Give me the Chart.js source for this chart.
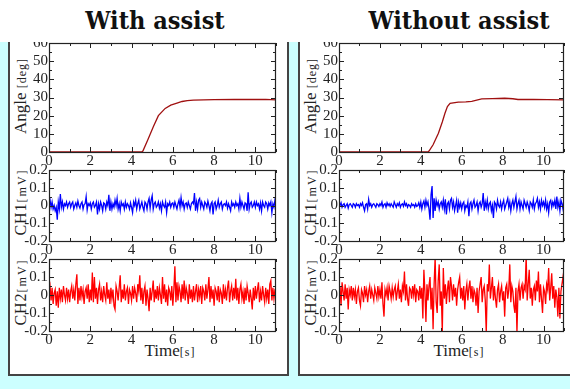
<!DOCTYPE html>
<html>
<head>
<meta charset="utf-8">
<script src="https://cdn.jsdelivr.net/npm/chart.js@4.4.1/dist/chart.umd.min.js"></script>
<style>
  body { margin: 0; width: 570px; height: 389px; background: #ccffff; position: relative; overflow: hidden; font-family: 'Liberation Serif', serif; color: #222; }
  .head { position: absolute; left: 0; top: 0; width: 570px; height: 42px; background: #fff; z-index: 5; }
  .title { position: absolute; top: 8px; font: bold 25px/26px 'DejaVu Serif', serif; font-stretch: condensed; transform: translateX(-50%); white-space: nowrap; color: #111; }
  .panel { position: absolute; top: 20px; height: 356px; background: #fff; border: 2px solid #444; box-sizing: border-box; }
  .plot { position: absolute; }
  .lab { position: absolute; white-space: nowrap; font-size: 17px; line-height: 17px; }
  .ylab { transform: translate(-50%, -50%) rotate(-90deg); }
  .xlab { transform: translate(-50%, -50%); }
  .lab small { font-size: 12px; letter-spacing: 1px; }
  .ch { font-size: 16px; letter-spacing: 1px; }
  .ch small { letter-spacing: 2px; }
</style>
</head>
<body>
<div class="head">
  <div class="title" style="left:155px">With assist</div>
  <div class="title" style="left:459px">Without assist</div>
</div>
<div class="panel" style="left:8px;width:281px"></div>
<div class="panel" style="left:298px;width:290px"></div>

<div class="lab ylab" style="left:21px;top:96px">Angle <small>[deg]</small></div>
<div class="lab ylab ch" style="left:21px;top:202px">CH1<small>[mV]</small></div>
<div class="lab ylab ch" style="left:21px;top:292px">CH2<small>[mV]</small></div>
<div class="lab xlab" style="left:170px;top:351px">Time<small>[s]</small></div>
<div class="lab ylab" style="left:311px;top:96px">Angle <small>[deg]</small></div>
<div class="lab ylab ch" style="left:311px;top:202px">CH1<small>[mV]</small></div>
<div class="lab ylab ch" style="left:311px;top:292px">CH2<small>[mV]</small></div>
<div class="lab xlab" style="left:459px;top:351px">Time<small>[s]</small></div>

<script>
// ---- data ----
const DT = 0.05; // sample spacing of the EMG traces [s]
const xTicks = [0, 2, 4, 6, 8, 10];
const angleTicks = [0, 10, 20, 30, 40, 50, 60];
const mvTicks = [-0.2, -0.1, 0, 0.1, 0.2];
const mvTickLabels = ['-0.2', '-0.1', '0', '0.1', '0.2'];

// joint angle, with assist
const angleWithT = [0, 4.5, 4.55, 4.8, 5.06, 5.3, 5.63, 5.9, 6.2, 6.45, 6.7, 7.0, 8.0, 9.0, 10.0, 10.5, 11];
const angleWithV = [0, 0, 0.5, 7, 14, 20, 24, 25.8, 26.9, 27.8, 28.3, 28.6, 28.8, 28.9, 28.9, 29.0, 28.7];
// joint angle, without assist
const angleWithoutT = [0, 4.35, 4.4, 4.6, 4.86, 5.05, 5.18, 5.3, 5.43, 5.83, 6.2, 6.49, 6.98, 7.5, 8.1, 8.5, 8.75, 9.5, 10.2, 11];
const angleWithoutV = [0, 0, 0.5, 4, 10.3, 16.5, 21.3, 25, 26.8, 27.5, 27.6, 27.9, 29.2, 29.4, 29.6, 29.3, 28.9, 29.0, 28.8, 28.7];

const ch1With = [
  0.01, 0.03, -0.01, 0.02, -0.02, 0.00, -0.03, -0.01, -0.08, 0.02, -0.02, 0.065, -0.01, 0.02, -0.02, 0.01, 0.00, 0.02, -0.01, 0.01,
  0.02, -0.01, 0.01, 0.02, -0.02, 0.00, 0.015, -0.01, 0.025, 0.00, -0.015, 0.01, 0.02, -0.02, 0.005, 0.01, 0.05, -0.025, 0.01, 0.00,
  0.015, -0.02, 0.01, 0.02, -0.01, 0.00, 0.02, -0.05, 0.01, -0.02, 0.02, 0.00, -0.03, 0.015, 0.01, -0.02, 0.02, 0.00, 0.06, -0.03,
  0.02, -0.02, 0.01, -0.01, 0.03, 0.00, 0.04, -0.02, 0.01, -0.03, 0.02, 0.00, 0.01, -0.02, 0.02, -0.01, 0.01, 0.00, -0.02, 0.015,
  -0.01, -0.04, 0.02, 0.00, 0.03, -0.02, 0.01, 0.03, -0.02, 0.00, 0.02, -0.01, -0.03, 0.02, 0.01, -0.02, 0.02, 0.04, -0.015, 0.03,
  0.055, -0.02, 0.01, 0.02, -0.01, 0.00, 0.02, -0.015, 0.01, -0.03, 0.02, 0.00, -0.01, 0.02, -0.04, 0.01, 0.00, 0.02, -0.01, 0.01,
  0.015, -0.01, 0.02, 0.00, -0.02, 0.01, 0.03, -0.01, 0.045, 0.00, 0.02, -0.02, 0.01, 0.015, -0.01, 0.02, 0.00, -0.02, 0.01, 0.02,
  0.01, 0.07, -0.03, 0.02, -0.02, 0.03, 0.04, -0.01, 0.02, 0.00, -0.02, 0.02, 0.01, -0.01, 0.025, 0.00, -0.03, 0.01, 0.02, -0.05,
  0.01, 0.02, -0.02, 0.00, 0.03, -0.01, 0.01, 0.02, -0.02, 0.005, 0.01, 0.00, 0.02, -0.015, 0.01, -0.01, -0.03, 0.02, 0.00, 0.01,
  -0.01, 0.02, 0.00, 0.01, -0.02, 0.04, -0.01, 0.02, 0.00, -0.02, 0.015, 0.01, -0.03, 0.075, -0.02, 0.01, 0.02, -0.01, 0.00, 0.02,
  -0.01, 0.02, 0.00, 0.01, -0.02, 0.015, -0.03, 0.02, 0.00, -0.01, 0.02, 0.01, -0.02, 0.015, 0.00, 0.02, -0.04, 0.01, -0.01, 0.03,
  0.01
];
const ch2With = [
  0.02, 0.05, -0.03, 0.04, -0.05, 0.01, 0.03, -0.06, 0.02, -0.07, 0.04, -0.02, 0.03, -0.04, 0.05, 0.00, -0.03, 0.04, -0.02, 0.03,
  -0.04, 0.02, 0.05, -0.02, 0.03, -0.03, 0.06, 0.115, -0.05, 0.04, -0.03, 0.05, -0.01, 0.03, -0.05, 0.02, 0.04, -0.02, 0.06, -0.04,
  0.03, -0.03, 0.125, -0.04, 0.10, -0.02, 0.04, -0.05, 0.03, 0.06, -0.03, 0.02, -0.04, 0.05, 0.00, -0.03, 0.07, -0.02, 0.03, -0.05,
  0.04, -0.02, 0.03, -0.06, -0.08, 0.05, 0.02, -0.03, 0.04, 0.11, -0.04, 0.03, -0.02, 0.06, -0.03, 0.02, 0.04, -0.05, 0.03, 0.01,
  -0.03, 0.05, -0.02, 0.04, 0.01, -0.04, 0.06, 0.02, 0.11, -0.03, 0.04, -0.05, 0.02, 0.05, -0.06, 0.03, -0.02, -0.09, 0.04, -0.03,
  0.02, 0.08, -0.04, 0.03, -0.02, 0.05, -0.03, 0.04, 0.00, -0.05, 0.10, -0.02, 0.06, -0.04, 0.03, -0.06, 0.04, 0.02, -0.03, 0.05,
  -0.06, 0.03, 0.16, -0.04, 0.07, -0.03, 0.05, 0.02, -0.04, 0.06, -0.02, 0.08, -0.03, 0.04, 0.01, -0.05, 0.06, -0.02, 0.03, -0.04,
  0.05, -0.03, 0.02, 0.06, -0.04, 0.03, -0.01, 0.05, -0.05, 0.04, 0.02, -0.03, 0.06, -0.02, 0.03, 0.10, -0.04, 0.05, -0.02, 0.03,
  -0.06, 0.04, 0.02, -0.03, 0.05, -0.04, 0.03, 0.01, -0.05, 0.06, -0.02, 0.03, -0.03, 0.04, 0.08, -0.04, 0.02, 0.05, -0.03, 0.04,
  -0.02, 0.09, -0.03, 0.04, -0.05, 0.03, 0.06, -0.02, 0.02, -0.05, 0.04, -0.03, 0.05, 0.01, -0.04, 0.03, -0.02, -0.08, 0.04, -0.03,
  0.05, -0.02, 0.03, 0.07, -0.04, 0.02, -0.03, 0.05, 0.00, -0.04, 0.04, -0.02, 0.03, -0.05, 0.06, 0.08, -0.03, 0.04, -0.02, 0.03,
  0.04
];
const ch1Without = [
  0.01, 0.00, 0.015, -0.01, 0.005, 0.01, -0.01, 0.00, 0.01, -0.015, 0.005, 0.01, 0.00, -0.01, 0.01, 0.005, -0.01, 0.01, 0.00, 0.005,
  -0.01, 0.01, 0.00, 0.015, -0.01, -0.03, 0.005, 0.01, -0.02, 0.035, 0.00, 0.01, -0.01, 0.005, 0.01, 0.00, -0.01, 0.01, 0.005, -0.005,
  0.01, 0.00, 0.02, -0.01, 0.005, 0.01, -0.01, 0.015, 0.00, 0.01, -0.005, 0.01, 0.00, -0.01, 0.02, 0.005, -0.01, 0.01, 0.00, 0.015,
  -0.01, 0.005, 0.01, -0.005, 0.02, 0.00, 0.01, -0.01, 0.005, 0.00, -0.01, 0.01, 0.00, 0.005, -0.01, 0.01, -0.005, 0.00, 0.015, -0.01,
  0.02, -0.02, 0.01, 0.025, -0.01, 0.03, 0.00, 0.02, -0.02, -0.08, 0.06, 0.11, -0.07, 0.04, -0.03, 0.03, 0.00, 0.02, -0.02, 0.01,
  0.02, -0.01, 0.03, -0.02, 0.035, -0.05, 0.01, 0.02, -0.02, 0.03, 0.04, -0.01, 0.02, -0.03, 0.00, 0.03, -0.04, 0.02, -0.01, 0.015,
  -0.02, 0.01, 0.02, -0.03, 0.00, -0.01, 0.02, -0.06, 0.01, 0.02, -0.02, 0.01, 0.03, -0.01, 0.00, 0.02, -0.03, 0.01, 0.02, -0.01,
  0.01, 0.07, -0.03, 0.02, -0.01, 0.03, -0.02, 0.01, 0.02, -0.03, 0.00, -0.07, 0.02, 0.01, -0.02, 0.03, 0.00, -0.01, 0.02, -0.02,
  0.01, 0.03, -0.02, 0.00, 0.02, 0.04, -0.01, 0.02, -0.03, 0.01, 0.03, -0.01, 0.02, 0.05, -0.02, 0.01, 0.03, -0.02, 0.02, 0.00,
  -0.02, 0.03, 0.01, -0.01, 0.02, 0.00, -0.03, 0.02, 0.01, -0.01, 0.03, -0.02, 0.01, 0.02, 0.04, -0.01, 0.02, -0.02, 0.03, 0.00,
  0.02, -0.01, 0.03, -0.02, 0.01, -0.04, 0.02, 0.03, -0.01, 0.02, 0.00, 0.03, -0.02, 0.05, -0.01, 0.02, -0.03, 0.03, 0.01, -0.02,
  0.04
];
const ch2Without = [
  -0.02, 0.05, -0.06, 0.07, 0.02, -0.03, 0.06, -0.02, 0.04, -0.08, 0.03, 0.00, 0.05, -0.03, 0.04, -0.01, 0.03, -0.05, 0.02, 0.04,
  -0.03, -0.06, 0.03, 0.01, -0.04, 0.05, 0.00, 0.03, -0.04, 0.02, 0.05, -0.02, 0.03, 0.00, -0.03, 0.04, 0.01, -0.02, 0.05, -0.01,
  0.03, -0.02, 0.07, -0.05, -0.12, 0.03, 0.00, 0.04, -0.03, 0.05, 0.02, -0.02, 0.04, -0.01, 0.03, 0.05, -0.03, 0.02, 0.06, -0.02,
  0.03, -0.04, 0.05, 0.02, 0.13, -0.03, 0.06, -0.02, -0.06, 0.04, 0.03, -0.02, 0.05, 0.00, 0.06, -0.04, 0.03, 0.02, -0.03, 0.05,
  -0.02, 0.04, -0.13, 0.14, 0.02, -0.15, 0.06, -0.03, 0.05, 0.10, -0.08, 0.04, -0.19, 0.06, 0.21, -0.04, -0.10, 0.08, 0.17, -0.06,
  0.02, -0.21, 0.15, -0.02, 0.06, -0.05, 0.03, 0.08, -0.04, 0.10, 0.05, -0.03, 0.06, -0.01, 0.04, -0.06, 0.03, 0.07, 0.10, -0.02,
  0.04, -0.03, 0.05, -0.08, 0.02, 0.06, -0.03, 0.04, 0.08, -0.02, 0.05, -0.04, 0.03, 0.01, -0.06, 0.04, -0.10, 0.02, 0.06, 0.10,
  -0.04, 0.03, 0.05, -0.03, -0.21, 0.06, 0.02, 0.17, -0.02, 0.04, 0.10, -0.03, 0.05, -0.02, -0.07, 0.03, 0.06, -0.04, 0.02, 0.05,
  -0.03, 0.02, -0.12, 0.04, 0.06, -0.02, 0.03, 0.17, -0.04, 0.05, 0.02, -0.06, -0.10, 0.04, -0.21, 0.02, 0.06, -0.03, 0.04, 0.06,
  -0.02, 0.05, 0.03, 0.22, -0.03, 0.06, 0.14, -0.02, 0.04, -0.06, 0.03, 0.05, -0.03, 0.08, 0.02, 0.13, -0.04, 0.06, -0.02, -0.10,
  0.04, 0.02, -0.05, 0.06, 0.03, 0.15, -0.03, 0.04, 0.12, -0.02, 0.05, -0.07, 0.03, -0.01, -0.12, 0.04, -0.13, 0.02, 0.06, 0.10,
  0.03
];

// ---- drawing ----
const ANGLE_COLOR = '#a01010';
const CH1_COLOR = '#0000ff';
const CH2_COLOR = '#ff0000';
const PAD_L = 42, PAD_T = 10, PAD_R = 10, PAD_B = 20;

// frame plus inward major/minor ticks on all four sides
const inTicks = {
  id: 'inTicks',
  afterDraw(chart, args, o) {
    const { ctx, chartArea: a, scales: { x, y } } = chart;
    ctx.save();
    ctx.strokeStyle = '#222';
    ctx.lineWidth = 1;
    ctx.beginPath();
    const nx = Math.round((x.max - x.min) / o.xMinor);
    for (let i = 0; i <= nx; i++) {
      const v = x.min + i * o.xMinor;
      const px = Math.round(x.getPixelForValue(v)) + 0.5;
      const len = Math.abs(v / o.xMajor - Math.round(v / o.xMajor)) < 1e-6 ? 5 : 3;
      ctx.moveTo(px, a.bottom); ctx.lineTo(px, a.bottom - len);
      ctx.moveTo(px, a.top); ctx.lineTo(px, a.top + len);
    }
    const ny = Math.round((y.max - y.min) / o.yMinor);
    for (let i = 0; i <= ny; i++) {
      const v = y.min + i * o.yMinor;
      const py = Math.round(y.getPixelForValue(v)) + 0.5;
      const len = Math.abs(v / o.yMajor - Math.round(v / o.yMajor)) < 1e-6 ? 5 : 3;
      ctx.moveTo(a.left, py); ctx.lineTo(a.left + len, py);
      ctx.moveTo(a.right, py); ctx.lineTo(a.right - len, py);
    }
    ctx.stroke();
    ctx.lineWidth = 1.2;
    ctx.strokeRect(Math.round(a.left) + 0.5, Math.round(a.top) + 0.5, Math.round(a.width) - 1, Math.round(a.height));
    ctx.restore();
  }
};

function makePlot(box, xs, ys, color, yTicks, yLabels, yMinor) {
  const wrap = document.createElement('div');
  wrap.className = 'plot';
  wrap.style.left = (box[0] - PAD_L) + 'px';
  wrap.style.top = (box[1] - PAD_T) + 'px';
  const cv = document.createElement('canvas');
  cv.width = box[2] + PAD_L + PAD_R;
  cv.height = box[3] + PAD_T + PAD_B;
  wrap.appendChild(cv);
  document.body.appendChild(wrap);
  const tickFont = { family: "'Liberation Serif', serif", size: 15 };
  new Chart(cv, {
    type: 'line',
    data: {
      datasets: [{
        data: ys.map((v, i) => ({ x: xs[i], y: v })),
        borderColor: color,
        borderWidth: 1.3,
        pointRadius: 0,
        tension: 0,
      }],
    },
    options: {
      responsive: false,
      animation: false,
      devicePixelRatio: 1,
      layout: { padding: { top: PAD_T, right: PAD_R, left: 0, bottom: 0 } },
      plugins: { legend: { display: false }, tooltip: { enabled: false }, inTicks: { xMinor: 1, xMajor: 2, yMinor: yMinor, yMajor: yTicks[1] - yTicks[0] } },
      scales: {
        x: {
          type: 'linear', min: 0, max: 11,
          grid: { display: false, drawTicks: false },
          border: { display: false },
          afterBuildTicks: (s) => { s.ticks = xTicks.map(v => ({ value: v })); },
          afterFit: (s) => { s.height = PAD_B; },
          ticks: { font: tickFont, color: '#222', padding: 0, maxRotation: 0, autoSkip: false, callback: (v, i) => String(xTicks[i]) },
        },
        y: {
          type: 'linear', min: yTicks[0], max: yTicks[yTicks.length - 1],
          grid: { display: false, drawTicks: false },
          border: { display: false },
          afterBuildTicks: (s) => { s.ticks = yTicks.map(v => ({ value: v })); },
          afterFit: (s) => { s.width = PAD_L; },
          ticks: { font: tickFont, color: '#222', padding: 1, autoSkip: false, callback: (v, i) => yLabels[i] },
        },
      },
    },
    plugins: [inTicks],
  });
}

const timeAxis = ch1With.map((_, i) => i * DT);
const angleLabels = angleTicks.map(String);

// [plot left, plot top, plot width, plot height]
makePlot([49, 43, 227, 109], angleWithT, angleWithV, ANGLE_COLOR, angleTicks, angleLabels, 5);
makePlot([49, 170, 227, 71], timeAxis, ch1With, CH1_COLOR, mvTicks, mvTickLabels, 0.05);
makePlot([49, 259, 227, 72], timeAxis, ch2With, CH2_COLOR, mvTicks, mvTickLabels, 0.05);
makePlot([339, 43, 225, 109], angleWithoutT, angleWithoutV, ANGLE_COLOR, angleTicks, angleLabels, 5);
makePlot([339, 170, 225, 71], timeAxis, ch1Without, CH1_COLOR, mvTicks, mvTickLabels, 0.05);
makePlot([339, 259, 225, 72], timeAxis, ch2Without, CH2_COLOR, mvTicks, mvTickLabels, 0.05);
</script>
</body>
</html>
